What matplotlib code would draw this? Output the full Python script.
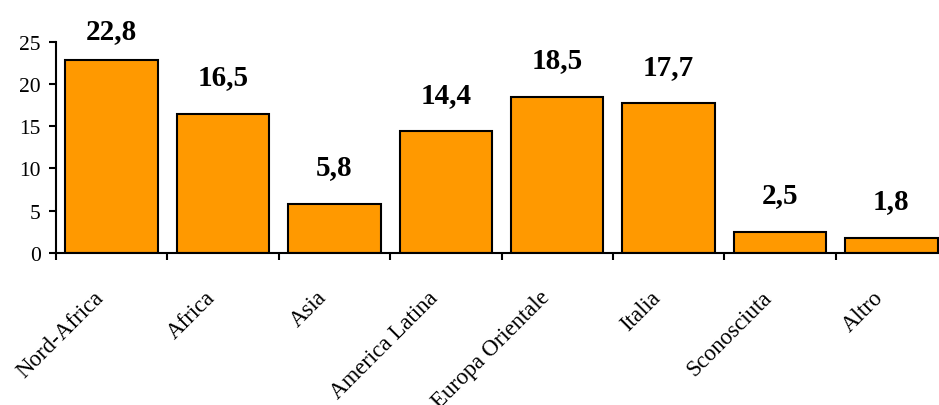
import matplotlib
matplotlib.use("Agg")
import matplotlib.pyplot as plt
import matplotlib.transforms as mtransforms

categories = ["Nord-Africa", "Africa", "Asia", "America Latina",
              "Europa Orientale", "Italia", "Sconosciuta", "Altro"]
values = [22.8, 16.5, 5.8, 14.4, 18.5, 17.7, 2.5, 1.8]
value_labels = ["22,8", "16,5", "5,8", "14,4", "18,5", "17,7", "2,5", "1,8"]
y_ticks = [0, 5, 10, 15, 20, 25]

plt.rcParams["font.family"] = ["Liberation Serif", "DejaVu Serif"]

W, H, DPI = 939, 406, 100
fig = plt.figure(figsize=(W / DPI, H / DPI), dpi=DPI)
ax = fig.add_axes([56 / W, (H - 254) / H, 891 / W, (254 - 42.7) / H])

xs = list(range(len(categories)))
ax.bar(xs, values, width=0.83, color="#FF9900", edgecolor="black",
       linewidth=1.5, zorder=3)

ax.set_xlim(-0.5, len(categories) - 0.5)
ax.set_ylim(0, 25)
ax.set_yticks(y_ticks)
ax.set_yticklabels([str(t) for t in y_ticks], fontsize=15.5)

# ticks sit on category boundaries; labels are placed separately
ax.set_xticks([i - 0.5 for i in range(len(categories) + 1)])
ax.set_xticklabels([])
ax.tick_params(axis="both", direction="out", length=5, width=1.5, colors="black")
ax.tick_params(axis="y", pad=6)

for s in ("top", "right"):
    ax.spines[s].set_visible(False)
for s in ("left", "bottom"):
    ax.spines[s].set_linewidth(1.5)
    ax.spines[s].set_zorder(4)

# category names rotated 45 degrees, ending under each bar centre
for x, name in zip(xs, categories):
    off = mtransforms.offset_copy(ax.get_xaxis_transform(), fig=fig,
                                  x=-11, y=-41, units="dots")
    ax.text(x, 0, name, transform=off, rotation=45, rotation_mode="anchor",
            ha="right", va="center", fontsize=16.5)

# bold value labels above the bars, kept inside the figure
px_per_unit = (254 - 42.7) / 25
for x, v, lab in zip(xs, values, value_labels):
    top_px = 254 - v * px_per_unit
    centre_px = max(top_px - 37, 32)
    ax.annotate(lab, xy=(x, v), xytext=(0, (top_px - centre_px) * 72 / DPI),
                textcoords="offset points", ha="center", va="center",
                fontsize=21, fontweight="bold", annotation_clip=False)

fig.savefig("out.png", dpi=DPI)
